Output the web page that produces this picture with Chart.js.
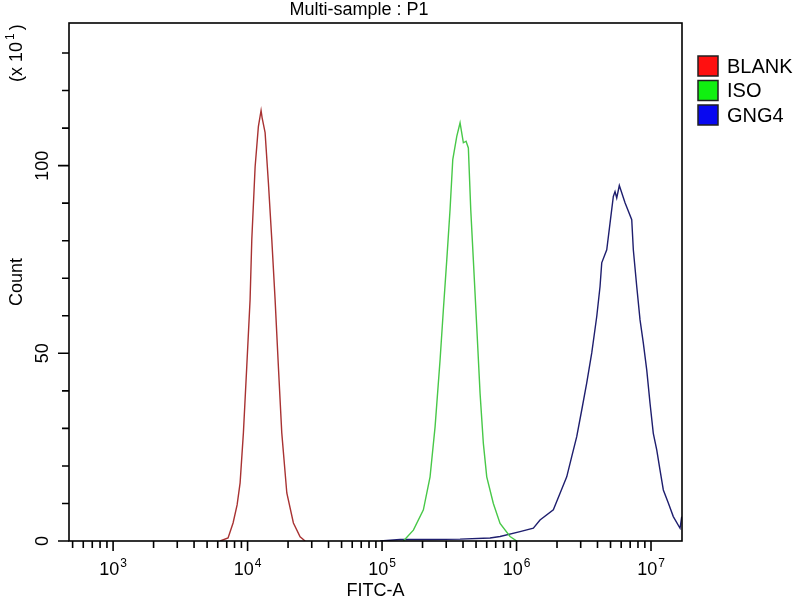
<!DOCTYPE html>
<html lang="en">
<head>
  <meta charset="UTF-8">
  <title>Multi-sample : P1</title>
  <style>
    body {
      margin: 0;
      background: #fff;
    }
    #chart {
      display: block;
    }
  </style>
</head>
<body>
  <canvas id="chart" width="800" height="600"></canvas>

  <script src="https://cdn.jsdelivr.net/npm/chart.js"></script>
  <script>
    // FITC-A values and counts (x10)
    const blankFitc = [6250, 7160, 7800, 8360, 8800, 9310, 9860, 10440, 10750, 11380, 12030, 12600, 12820, 13500, 14280, 15140, 16020, 16950, 17960, 19580, 21920, 24580, 26800];
    const blankCount = [0, 0.8, 4.8, 9.6, 15.5, 28.8, 46.4, 64.3, 80.3, 99.7, 110.4, 114.7, 112.8, 108.8, 95.5, 80.3, 64.3, 46.4, 28.8, 12.8, 4.8, 1.1, 0];

    const isoFitc = [144100, 171000, 202900, 227500, 247900, 270100, 285700, 302900, 320400, 335600, 359400, 380300, 402400, 421400, 438300, 456600, 477400, 506000, 535500, 566600, 600500, 672300, 754300, 895000, 1004000];
    const isoCount = [0, 2.9, 8.3, 17.1, 30.4, 48.3, 61.6, 74.9, 88.3, 101.6, 107.8, 111.4, 106.1, 106.5, 104.7, 88.3, 74.9, 57.1, 39.4, 26.0, 17.1, 10.0, 4.7, 1.2, 0];

    const gngFitc = [96700, 136100, 227500, 380300, 635300, 754300, 1062000, 1334000, 1495000, 1878000, 2107000, 2362000, 2573000, 2803000, 3054000, 3327000, 3625000, 3949000, 4178000, 4301000, 4686000, 4958000, 5246000, 5401000, 5560000, 5813000, 6410000, 7189000, 7388000, 7832000, 8287000, 8768000, 9294000, 9833000, 10400000, 11030000, 11670000, 12350000, 13450000, 14650000, 16440000, 16920000];
    const gngCount = [0, 0.4, 0.4, 0.5, 0.8, 1.2, 2.5, 3.4, 5.6, 8.3, 12.7, 17.1, 22.5, 27.8, 34.9, 42.1, 50.1, 59.8, 67.8, 74.1, 77.6, 84.7, 91.8, 93.1, 91.4, 94.7, 90.1, 85.6, 77.6, 67.8, 58.9, 52.7, 45.6, 36.7, 28.7, 24.3, 18.9, 13.6, 10.1, 6.5, 3.4, 6.5];

    const seriesNames = ['BLANK', 'ISO', 'GNG4'];
    const lineColors = ['#a83232', '#48c848', '#1e1e6e'];
    const legendColors = ['#ff1010', '#10f010', '#0808f0'];

    const xMajor = [1e3, 1e4, 1e5, 1e6, 1e7];
    const xMajorExp = ['3', '4', '5', '6', '7'];
    const yTickValues = [0, 10, 20, 30, 40, 50, 60, 70, 80, 90, 100, 110, 120, 130];
    const yLabelled = [0, 50, 100];

    // minor log ticks 2..9 in each decade, plus 500..900 before 10^3
    let xTicks = [500, 600, 700, 800, 900];
    xMajor.forEach(d => {
      xTicks.push(d);
      if (d < 1e7) for (let m = 2; m <= 9; m++) xTicks.push(m * d);
    });

    const FONT = "'Liberation Sans', Arial, sans-serif";

    function points(xs, ys) {
      return xs.map((v, i) => ({ x: v, y: ys[i] }));
    }

    const decorPlugin = {
      id: 'decor',
      afterDraw(chart) {
        const { ctx, chartArea: a, scales: { x, y } } = chart;
        ctx.save();
        ctx.strokeStyle = '#000';
        ctx.lineWidth = 1.6;
        ctx.strokeRect(a.left, a.top, a.right - a.left, a.bottom - a.top);

        ctx.beginPath();
        x.ticks.forEach(t => {
          const px = x.getPixelForValue(t.value);
          const len = xMajor.includes(t.value) ? 10 : 7;
          ctx.moveTo(px, a.bottom);
          ctx.lineTo(px, a.bottom + len);
        });
        y.ticks.forEach(t => {
          const py = y.getPixelForValue(t.value);
          const len = yLabelled.includes(t.value) ? 11 : 7;
          ctx.moveTo(a.left, py);
          ctx.lineTo(a.left - len, py);
        });
        ctx.stroke();

        // decade labels 10^n with a raised exponent
        ctx.fillStyle = '#000';
        ctx.textBaseline = 'alphabetic';
        ctx.textAlign = 'left';
        xMajor.forEach((v, i) => {
          const px = x.getPixelForValue(v);
          ctx.font = '18px ' + FONT;
          const w1 = ctx.measureText('10').width;
          ctx.font = '12px ' + FONT;
          const w2 = ctx.measureText(xMajorExp[i]).width;
          const left = px - (w1 + w2 + 1) / 2;
          ctx.font = '18px ' + FONT;
          ctx.fillText('10', left, a.bottom + 34);
          ctx.font = '12px ' + FONT;
          ctx.fillText(xMajorExp[i], left + w1 + 1, a.bottom + 26);
        });

        // title
        ctx.font = '18px ' + FONT;
        ctx.textAlign = 'center';
        ctx.fillText('Multi-sample : P1', 359, 15);

        // y multiplier "(x 10^1)", rotated
        ctx.save();
        ctx.translate(22, 82);
        ctx.rotate(-Math.PI / 2);
        ctx.textAlign = 'left';
        ctx.font = '18px ' + FONT;
        const base = '(x 10';
        const wb = ctx.measureText(base).width;
        ctx.fillText(base, 0, 0);
        ctx.font = '12px ' + FONT;
        ctx.fillText('1', wb + 2, -8);
        const we = ctx.measureText('1').width;
        ctx.font = '18px ' + FONT;
        ctx.fillText(')', wb + we + 5, 0);
        ctx.restore();

        // legend
        ctx.font = '20px ' + FONT;
        ctx.textAlign = 'left';
        ctx.textBaseline = 'middle';
        chart.data.datasets.forEach((ds, i) => {
          const top = 56 + i * 24.5;
          ctx.fillStyle = legendColors[i];
          ctx.fillRect(698, top, 20, 20);
          ctx.lineWidth = 1.5;
          ctx.strokeStyle = '#202020';
          ctx.strokeRect(698, top, 20, 20);
          ctx.fillStyle = '#000';
          ctx.fillText(ds.label, 727, top + 11);
        });
        ctx.restore();
      }
    };

    new Chart(document.getElementById('chart'), {
      type: 'line',
      data: {
        datasets: [
          { label: seriesNames[0], data: points(blankFitc, blankCount) },
          { label: seriesNames[1], data: points(isoFitc, isoCount) },
          { label: seriesNames[2], data: points(gngFitc, gngCount) }
        ].map((ds, i) => Object.assign(ds, {
          borderColor: lineColors[i],
          borderWidth: 1.4,
          pointRadius: 0,
          fill: false,
          tension: 0
        }))
      },
      options: {
        responsive: false,
        animation: false,
        layout: { padding: { top: 23, right: 118, bottom: 0, left: 0 } },
        plugins: {
          legend: { display: false },
          title: { display: false },
          tooltip: { enabled: false }
        },
        scales: {
          x: {
            type: 'logarithmic',
            min: 470,
            max: 1.7e7,
            grid: { display: false, drawTicks: false },
            border: { display: false },
            afterBuildTicks: s => { s.ticks = xTicks.map(v => ({ value: v })); },
            afterFit: s => { s.height = 59; },
            ticks: { display: false },
            title: {
              display: true,
              text: 'FITC-A',
              color: '#000',
              font: { family: FONT, size: 18, lineHeight: 1 },
              padding: { top: 0, bottom: 0 }
            }
          },
          y: {
            min: 0,
            max: 138,
            grid: { display: false, drawTicks: false },
            border: { display: false },
            afterBuildTicks: s => { s.ticks = yTickValues.map(v => ({ value: v })); },
            afterFit: s => { s.width = 69; },
            ticks: {
              autoSkip: false,
              minRotation: 90,
              maxRotation: 90,
              crossAlign: 'center',
              padding: 11,
              color: '#000',
              font: { family: FONT, size: 18 },
              callback: v => yLabelled.includes(v) ? String(v) : ''
            },
            title: {
              display: true,
              text: 'Count',
              color: '#000',
              font: { family: FONT, size: 18, lineHeight: 1 },
              padding: { top: 8, bottom: 0 }
            }
          }
        }
      },
      plugins: [decorPlugin]
    });
  </script>
</body>
</html>
